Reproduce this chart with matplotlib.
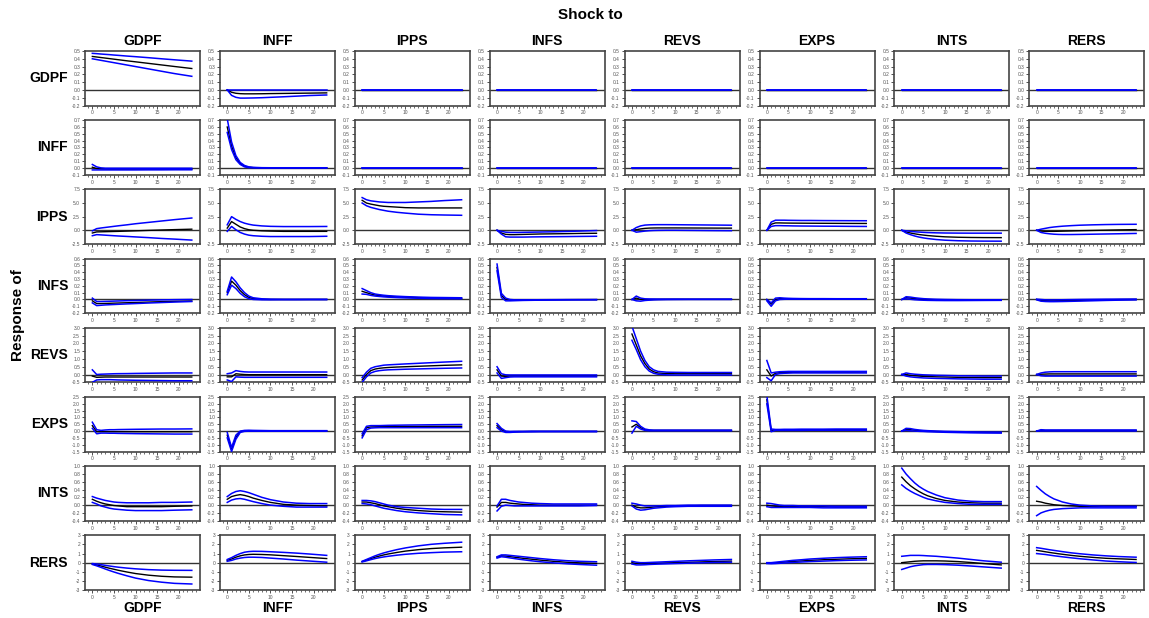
import matplotlib.pyplot as plt
from matplotlib.ticker import MultipleLocator

# horizons (denser early where responses move fast)
H = [0, 1, 2, 3, 4, 5, 6, 8, 10, 13, 16, 19, 23]
VARS = ["GDPF", "INFF", "IPPS", "INFS", "REVS", "EXPS", "INTS", "RERS"]
ZERO = [0.0, 0.0, 0.0, 0.0, 0.0, 0.0, 0.0, 0.0, 0.0, 0.0, 0.0, 0.0, 0.0]

# each entry: shock -> (lower band, point estimate, upper band)
resp_GDPF = {
    "GDPF": ([0.40, 0.39, 0.38, 0.37, 0.36, 0.35, 0.34, 0.32, 0.30, 0.27, 0.24, 0.21, 0.175],
             [0.43, 0.423, 0.416, 0.409, 0.402, 0.395, 0.388, 0.374, 0.361, 0.341, 0.321, 0.301, 0.275],
             [0.47, 0.466, 0.461, 0.457, 0.453, 0.448, 0.444, 0.435, 0.427, 0.414, 0.40, 0.387, 0.37]),
    "INFF": ([0.0, -0.07, -0.095, -0.105, -0.105, -0.104, -0.103, -0.10, -0.095, -0.088, -0.08, -0.072, -0.065],
             [0.0, -0.03, -0.043, -0.048, -0.05, -0.05, -0.05, -0.049, -0.047, -0.045, -0.043, -0.041, -0.038],
             ZERO),
    "IPPS": (ZERO, ZERO, ZERO),
    "INFS": (ZERO, ZERO, ZERO),
    "REVS": (ZERO, ZERO, ZERO),
    "EXPS": (ZERO, ZERO, ZERO),
    "INTS": (ZERO, ZERO, ZERO),
    "RERS": (ZERO, ZERO, ZERO),
}

resp_INFF = {
    "GDPF": ([-0.03, -0.03, -0.03, -0.03, -0.03, -0.03, -0.03, -0.03, -0.03, -0.029, -0.029, -0.028, -0.028],
             [0.01, -0.01, -0.015, -0.017, -0.018, -0.018, -0.018, -0.018, -0.018, -0.018, -0.018, -0.018, -0.018],
             [0.05, 0.015, 0.0, -0.005, -0.005, -0.005, -0.005, -0.005, -0.005, -0.005, -0.005, -0.005, -0.005]),
    "INFF": ([0.52, 0.27, 0.12, 0.05, 0.015, 0.003, 0.0, -0.002, -0.002, -0.002, -0.002, -0.002, -0.002],
             [0.60, 0.32, 0.15, 0.065, 0.025, 0.01, 0.004, 0.0, 0.0, 0.0, 0.0, 0.0, 0.0],
             [0.72, 0.38, 0.18, 0.08, 0.035, 0.015, 0.008, 0.003, 0.002, 0.002, 0.002, 0.002, 0.002]),
    "IPPS": (ZERO, ZERO, ZERO),
    "INFS": (ZERO, ZERO, ZERO),
    "REVS": (ZERO, ZERO, ZERO),
    "EXPS": (ZERO, ZERO, ZERO),
    "INTS": (ZERO, ZERO, ZERO),
    "RERS": (ZERO, ZERO, ZERO),
}

resp_IPPS = {
    "GDPF": ([-1.0, -0.8, -0.85, -0.9, -0.95, -1.0, -1.05, -1.13, -1.22, -1.35, -1.5, -1.62, -1.8],
             [-0.5, -0.3, -0.28, -0.26, -0.24, -0.22, -0.2, -0.15, -0.1, -0.02, 0.05, 0.12, 0.2],
             [-0.1, 0.3, 0.42, 0.52, 0.62, 0.72, 0.82, 1.0, 1.2, 1.45, 1.7, 1.95, 2.25]),
    "INFF": ([-0.2, 0.7, 0.1, -0.4, -0.7, -0.9, -1.0, -1.1, -1.15, -1.15, -1.15, -1.15, -1.1],
             [0.4, 1.6, 1.1, 0.6, 0.3, 0.1, 0.0, -0.1, -0.15, -0.2, -0.2, -0.2, -0.2],
             [1.0, 2.5, 2.0, 1.6, 1.3, 1.1, 0.95, 0.8, 0.72, 0.68, 0.68, 0.68, 0.7]),
    "IPPS": ([5.0, 4.5, 4.2, 4.0, 3.8, 3.65, 3.5, 3.3, 3.15, 2.95, 2.85, 2.8, 2.75],
             [5.5, 5.0, 4.8, 4.65, 4.5, 4.4, 4.35, 4.25, 4.15, 4.1, 4.1, 4.1, 4.1],
             [6.0, 5.6, 5.4, 5.3, 5.2, 5.15, 5.1, 5.1, 5.1, 5.2, 5.3, 5.45, 5.6]),
    "INFS": ([0.0, -0.7, -1.2, -1.25, -1.25, -1.25, -1.25, -1.22, -1.2, -1.18, -1.16, -1.13, -1.1],
             [0.0, -0.5, -0.75, -0.8, -0.8, -0.78, -0.76, -0.72, -0.68, -0.65, -0.62, -0.58, -0.55],
             [0.0, -0.2, -0.35, -0.4, -0.4, -0.4, -0.38, -0.35, -0.32, -0.28, -0.22, -0.15, -0.05]),
    "REVS": ([0.0, -0.35, -0.25, -0.15, -0.08, -0.04, -0.02, 0.0, 0.0, -0.02, -0.04, -0.06, -0.08],
             [0.0, 0.1, 0.25, 0.35, 0.4, 0.42, 0.43, 0.43, 0.43, 0.42, 0.41, 0.4, 0.39],
             [0.0, 0.5, 0.8, 0.95, 1.0, 1.02, 1.03, 1.03, 1.02, 1.0, 0.98, 0.96, 0.93]),
    "EXPS": ([0.0, 0.7, 0.85, 0.85, 0.83, 0.82, 0.8, 0.78, 0.77, 0.75, 0.74, 0.72, 0.7],
             [0.0, 1.1, 1.35, 1.35, 1.33, 1.32, 1.31, 1.3, 1.29, 1.28, 1.27, 1.26, 1.25],
             [0.0, 1.5, 1.85, 1.85, 1.85, 1.83, 1.82, 1.8, 1.8, 1.78, 1.77, 1.76, 1.75]),
    "INTS": ([0.0, -0.5, -0.8, -1.05, -1.25, -1.4, -1.52, -1.7, -1.82, -1.92, -1.97, -1.99, -2.0],
             [0.0, -0.3, -0.5, -0.65, -0.78, -0.88, -0.97, -1.1, -1.2, -1.28, -1.32, -1.34, -1.35],
             [0.0, -0.1, -0.2, -0.28, -0.33, -0.38, -0.42, -0.47, -0.5, -0.52, -0.53, -0.53, -0.53]),
    "RERS": ([0.0, -0.4, -0.55, -0.65, -0.72, -0.76, -0.78, -0.78, -0.76, -0.72, -0.68, -0.64, -0.58],
             [0.0, -0.15, -0.2, -0.2, -0.2, -0.18, -0.16, -0.12, -0.08, -0.03, 0.02, 0.07, 0.12],
             [0.0, 0.2, 0.35, 0.5, 0.6, 0.68, 0.75, 0.85, 0.93, 1.0, 1.05, 1.08, 1.1]),
}

resp_INFS = {
    "GDPF": ([-0.05, -0.09, -0.085, -0.08, -0.077, -0.074, -0.071, -0.065, -0.06, -0.052, -0.045, -0.038, -0.03],
             [-0.02, -0.06, -0.06, -0.058, -0.056, -0.054, -0.052, -0.048, -0.044, -0.038, -0.032, -0.027, -0.022],
             [0.02, -0.03, -0.03, -0.028, -0.026, -0.024, -0.022, -0.018, -0.015, -0.01, -0.006, -0.003, 0.0]),
    "INFF": ([0.07, 0.21, 0.16, 0.09, 0.04, 0.012, 0.0, -0.005, -0.005, -0.004, -0.004, -0.003, -0.003],
             [0.10, 0.27, 0.21, 0.13, 0.07, 0.03, 0.012, 0.002, 0.0, 0.0, 0.0, 0.0, 0.0],
             [0.12, 0.33, 0.26, 0.17, 0.10, 0.05, 0.025, 0.01, 0.005, 0.003, 0.003, 0.003, 0.003]),
    "IPPS": ([0.08, 0.075, 0.06, 0.05, 0.044, 0.038, 0.034, 0.028, 0.023, 0.018, 0.014, 0.012, 0.01],
             [0.12, 0.10, 0.08, 0.065, 0.057, 0.05, 0.045, 0.038, 0.033, 0.027, 0.023, 0.02, 0.018],
             [0.16, 0.13, 0.10, 0.08, 0.07, 0.062, 0.056, 0.048, 0.042, 0.035, 0.03, 0.028, 0.025]),
    "INFS": ([0.42, 0.03, -0.02, -0.02, -0.018, -0.016, -0.014, -0.012, -0.01, -0.008, -0.006, -0.005, -0.004],
             [0.47, 0.06, 0.0, -0.01, -0.012, -0.01, -0.009, -0.008, -0.006, -0.004, -0.003, -0.002, -0.002],
             [0.52, 0.09, 0.02, 0.0, -0.005, -0.005, -0.005, -0.005, -0.004, -0.003, -0.002, -0.002, -0.001]),
    "REVS": ([0.0, -0.02, -0.025, -0.015, -0.01, -0.006, -0.004, -0.002, -0.001, 0.0, 0.0, 0.0, 0.0],
             [0.0, 0.02, 0.0, -0.002, -0.002, 0.0, 0.001, 0.002, 0.002, 0.002, 0.002, 0.002, 0.002],
             [0.0, 0.05, 0.02, 0.01, 0.008, 0.007, 0.006, 0.005, 0.005, 0.004, 0.004, 0.004, 0.004]),
    "EXPS": ([-0.02, -0.10, -0.02, 0.0, 0.003, 0.004, 0.004, 0.004, 0.004, 0.004, 0.004, 0.004, 0.004],
             [0.0, -0.07, 0.0, 0.012, 0.01, 0.009, 0.008, 0.008, 0.008, 0.008, 0.008, 0.008, 0.008],
             [0.0, -0.05, 0.02, 0.025, 0.02, 0.017, 0.015, 0.013, 0.012, 0.012, 0.011, 0.011, 0.011]),
    "INTS": ([0.0, 0.01, 0.003, -0.004, -0.008, -0.011, -0.013, -0.015, -0.016, -0.016, -0.015, -0.014, -0.013],
             [0.0, 0.025, 0.02, 0.012, 0.006, 0.002, -0.001, -0.005, -0.007, -0.008, -0.008, -0.008, -0.008],
             [0.0, 0.04, 0.035, 0.025, 0.018, 0.012, 0.008, 0.003, 0.0, -0.003, -0.004, -0.004, -0.004]),
    "RERS": ([-0.005, -0.025, -0.03, -0.032, -0.032, -0.031, -0.03, -0.027, -0.024, -0.019, -0.014, -0.01, -0.006],
             [0.0, -0.015, -0.018, -0.02, -0.02, -0.019, -0.018, -0.015, -0.012, -0.008, -0.005, -0.002, 0.0],
             [0.005, 0.0, -0.005, -0.006, -0.006, -0.005, -0.004, -0.002, 0.0, 0.002, 0.004, 0.005, 0.006]),
}

resp_REVS = {
    "GDPF": ([-0.5, -0.35, -0.33, -0.33, -0.33, -0.34, -0.35, -0.36, -0.37, -0.38, -0.39, -0.4, -0.4],
             [-0.1, -0.18, -0.17, -0.16, -0.16, -0.16, -0.16, -0.16, -0.16, -0.16, -0.16, -0.16, -0.16],
             [0.3, 0.0, 0.02, 0.03, 0.04, 0.05, 0.055, 0.06, 0.07, 0.08, 0.09, 0.1, 0.1]),
    "INFF": ([-0.35, -0.45, -0.15, -0.17, -0.18, -0.18, -0.18, -0.18, -0.18, -0.18, -0.18, -0.18, -0.18],
             [-0.15, -0.15, 0.05, 0.02, 0.0, -0.01, -0.01, -0.01, -0.01, -0.01, -0.01, -0.01, -0.01],
             [0.05, 0.1, 0.25, 0.2, 0.17, 0.16, 0.16, 0.16, 0.16, 0.16, 0.16, 0.16, 0.16]),
    "IPPS": ([-0.5, -0.15, 0.1, 0.2, 0.25, 0.28, 0.3, 0.32, 0.34, 0.36, 0.38, 0.4, 0.42],
             [-0.35, 0.0, 0.25, 0.35, 0.4, 0.43, 0.45, 0.48, 0.5, 0.53, 0.56, 0.59, 0.62],
             [-0.2, 0.15, 0.4, 0.5, 0.55, 0.6, 0.62, 0.65, 0.68, 0.72, 0.76, 0.8, 0.85]),
    "INFS": ([0.1, -0.25, -0.2, -0.16, -0.15, -0.15, -0.15, -0.15, -0.15, -0.15, -0.15, -0.15, -0.15],
             [0.3, -0.1, -0.12, -0.1, -0.1, -0.1, -0.1, -0.1, -0.1, -0.1, -0.1, -0.1, -0.1],
             [0.5, 0.05, -0.02, -0.03, -0.03, -0.03, -0.03, -0.03, -0.03, -0.03, -0.03, -0.03, -0.03]),
    "REVS": ([2.2, 1.6, 0.95, 0.5, 0.22, 0.08, 0.02, -0.02, -0.03, -0.03, -0.03, -0.03, -0.03],
             [2.6, 1.9, 1.2, 0.7, 0.35, 0.18, 0.1, 0.06, 0.05, 0.05, 0.05, 0.05, 0.05],
             [3.1, 2.3, 1.5, 0.9, 0.5, 0.3, 0.2, 0.15, 0.14, 0.13, 0.13, 0.13, 0.13]),
    "EXPS": ([-0.2, -0.4, 0.0, 0.06, 0.08, 0.09, 0.1, 0.1, 0.1, 0.1, 0.1, 0.1, 0.1],
             [0.3, -0.1, 0.08, 0.12, 0.13, 0.14, 0.14, 0.15, 0.15, 0.15, 0.15, 0.15, 0.16],
             [0.9, 0.1, 0.15, 0.18, 0.19, 0.2, 0.2, 0.2, 0.2, 0.2, 0.2, 0.2, 0.2]),
    "INTS": ([0.0, -0.1, -0.15, -0.18, -0.2, -0.22, -0.23, -0.25, -0.26, -0.28, -0.29, -0.3, -0.3],
             [0.0, 0.0, -0.05, -0.08, -0.1, -0.12, -0.13, -0.15, -0.16, -0.18, -0.19, -0.2, -0.2],
             [0.0, 0.1, 0.05, 0.02, 0.0, -0.02, -0.03, -0.05, -0.06, -0.08, -0.09, -0.1, -0.1]),
    "RERS": ([0.0, -0.08, -0.1, -0.1, -0.1, -0.1, -0.1, -0.1, -0.1, -0.1, -0.1, -0.1, -0.1],
             [0.0, 0.02, 0.03, 0.04, 0.04, 0.04, 0.04, 0.04, 0.04, 0.04, 0.04, 0.04, 0.04],
             [0.0, 0.1, 0.15, 0.17, 0.18, 0.18, 0.18, 0.18, 0.18, 0.18, 0.18, 0.18, 0.18]),
}

resp_EXPS = {
    "GDPF": ([0.2, -0.2, -0.15, -0.15, -0.16, -0.16, -0.17, -0.18, -0.19, -0.2, -0.21, -0.22, -0.22],
             [0.4, -0.05, -0.05, -0.05, -0.05, -0.05, -0.05, -0.05, -0.05, -0.05, -0.05, -0.05, -0.05],
             [0.65, 0.1, 0.05, 0.08, 0.1, 0.1, 0.11, 0.12, 0.13, 0.14, 0.15, 0.15, 0.16]),
    "INFF": ([-0.5, -1.5, -0.6, -0.1, -0.02, -0.01, -0.01, -0.01, -0.01, -0.01, -0.01, -0.01, -0.01],
             [-0.3, -1.35, -0.45, -0.05, 0.02, 0.02, 0.02, 0.01, 0.01, 0.01, 0.01, 0.01, 0.01],
             [-0.1, -1.2, -0.3, 0.0, 0.05, 0.06, 0.05, 0.04, 0.03, 0.03, 0.03, 0.03, 0.03]),
    "IPPS": ([-0.5, 0.1, 0.22, 0.24, 0.25, 0.25, 0.25, 0.25, 0.25, 0.25, 0.25, 0.25, 0.25],
             [-0.35, 0.25, 0.3, 0.31, 0.32, 0.32, 0.33, 0.33, 0.34, 0.34, 0.35, 0.35, 0.35],
             [-0.2, 0.35, 0.4, 0.4, 0.4, 0.41, 0.42, 0.43, 0.44, 0.45, 0.46, 0.47, 0.48]),
    "INFS": ([0.25, 0.0, -0.1, -0.1, -0.08, -0.07, -0.06, -0.06, -0.05, -0.05, -0.05, -0.05, -0.05],
             [0.4, 0.1, -0.05, -0.06, -0.05, -0.04, -0.04, -0.03, -0.03, -0.03, -0.03, -0.03, -0.03],
             [0.55, 0.2, 0.0, -0.03, -0.02, -0.02, -0.02, -0.01, -0.01, -0.01, -0.01, -0.01, -0.01]),
    "REVS": ([-0.15, 0.35, 0.15, 0.05, 0.02, 0.02, 0.02, 0.02, 0.02, 0.02, 0.02, 0.02, 0.02],
             [0.3, 0.5, 0.25, 0.1, 0.05, 0.05, 0.05, 0.05, 0.05, 0.05, 0.05, 0.05, 0.05],
             [0.75, 0.7, 0.35, 0.15, 0.09, 0.07, 0.07, 0.07, 0.07, 0.07, 0.07, 0.07, 0.07]),
    "EXPS": ([2.0, -0.05, 0.05, 0.05, 0.05, 0.05, 0.05, 0.05, 0.06, 0.06, 0.06, 0.06, 0.06],
             [2.3, 0.05, 0.08, 0.08, 0.09, 0.09, 0.09, 0.09, 0.1, 0.1, 0.1, 0.1, 0.1],
             [2.6, 0.15, 0.12, 0.12, 0.13, 0.13, 0.13, 0.14, 0.14, 0.14, 0.15, 0.15, 0.15]),
    "INTS": ([0.0, 0.05, 0.02, 0.0, -0.02, -0.03, -0.05, -0.07, -0.09, -0.11, -0.13, -0.14, -0.15],
             [0.0, 0.12, 0.1, 0.06, 0.03, 0.01, -0.01, -0.03, -0.05, -0.07, -0.09, -0.1, -0.11],
             [0.0, 0.2, 0.18, 0.12, 0.08, 0.05, 0.03, 0.0, -0.02, -0.04, -0.06, -0.07, -0.08]),
    "RERS": ([0.0, 0.0, 0.0, 0.0, 0.0, 0.0, 0.0, 0.0, 0.0, 0.0, 0.0, 0.0, 0.0],
             [0.0, 0.05, 0.04, 0.04, 0.04, 0.04, 0.04, 0.04, 0.04, 0.04, 0.04, 0.04, 0.04],
             [0.0, 0.1, 0.08, 0.08, 0.08, 0.08, 0.08, 0.08, 0.08, 0.08, 0.08, 0.08, 0.08]),
}

resp_INTS = {
    "GDPF": ([0.07, 0.03, -0.02, -0.05, -0.08, -0.1, -0.11, -0.13, -0.14, -0.14, -0.14, -0.13, -0.12],
             [0.15, 0.1, 0.06, 0.03, 0.01, -0.01, -0.02, -0.04, -0.04, -0.04, -0.04, -0.03, -0.02],
             [0.22, 0.18, 0.15, 0.12, 0.1, 0.08, 0.07, 0.06, 0.06, 0.06, 0.07, 0.07, 0.08]),
    "INFF": ([0.07, 0.13, 0.16, 0.17, 0.15, 0.12, 0.09, 0.04, 0.0, -0.03, -0.05, -0.05, -0.05],
             [0.15, 0.22, 0.25, 0.27, 0.25, 0.22, 0.18, 0.12, 0.07, 0.02, 0.0, -0.01, -0.02],
             [0.22, 0.3, 0.35, 0.37, 0.35, 0.32, 0.28, 0.2, 0.14, 0.08, 0.05, 0.04, 0.04]),
    "IPPS": ([0.04, 0.03, 0.01, -0.02, -0.05, -0.08, -0.1, -0.14, -0.17, -0.2, -0.22, -0.24, -0.25],
             [0.08, 0.08, 0.06, 0.04, 0.01, -0.02, -0.04, -0.08, -0.11, -0.14, -0.16, -0.17, -0.18],
             [0.12, 0.12, 0.11, 0.09, 0.06, 0.03, 0.0, -0.04, -0.06, -0.08, -0.1, -0.11, -0.11]),
    "INFS": ([-0.15, -0.03, 0.0, -0.01, -0.02, -0.02, -0.02, -0.02, -0.02, -0.02, -0.02, -0.02, -0.01],
             [-0.05, 0.07, 0.07, 0.05, 0.04, 0.03, 0.02, 0.01, 0.0, 0.0, 0.0, 0.0, 0.0],
             [-0.02, 0.15, 0.15, 0.12, 0.1, 0.08, 0.07, 0.05, 0.04, 0.03, 0.03, 0.03, 0.03]),
    "REVS": ([-0.02, -0.1, -0.13, -0.12, -0.1, -0.08, -0.07, -0.05, -0.04, -0.03, -0.03, -0.03, -0.03],
             [0.0, -0.05, -0.07, -0.07, -0.06, -0.05, -0.04, -0.03, -0.02, -0.02, -0.01, -0.01, -0.01],
             [0.05, 0.03, 0.0, -0.02, -0.02, -0.02, -0.02, -0.01, -0.01, 0.0, 0.0, 0.0, 0.0]),
    "EXPS": ([-0.04, -0.06, -0.06, -0.06, -0.06, -0.06, -0.06, -0.06, -0.06, -0.07, -0.07, -0.07, -0.07],
             [0.0, -0.02, -0.03, -0.03, -0.03, -0.03, -0.04, -0.04, -0.04, -0.04, -0.05, -0.05, -0.05],
             [0.05, 0.04, 0.02, 0.0, -0.01, -0.01, -0.01, -0.02, -0.02, -0.02, -0.03, -0.03, -0.03]),
    "INTS": ([0.52, 0.43, 0.36, 0.3, 0.25, 0.2, 0.16, 0.11, 0.07, 0.04, 0.02, 0.02, 0.02],
             [0.72, 0.6, 0.5, 0.42, 0.35, 0.29, 0.24, 0.17, 0.12, 0.08, 0.06, 0.05, 0.05],
             [0.95, 0.8, 0.68, 0.57, 0.48, 0.41, 0.35, 0.26, 0.19, 0.13, 0.1, 0.09, 0.09]),
    "RERS": ([-0.27, -0.2, -0.16, -0.13, -0.11, -0.1, -0.09, -0.08, -0.07, -0.07, -0.07, -0.07, -0.07],
             [0.1, 0.08, 0.05, 0.03, 0.01, 0.0, -0.01, -0.02, -0.03, -0.03, -0.03, -0.03, -0.03],
             [0.48, 0.38, 0.29, 0.22, 0.16, 0.12, 0.08, 0.03, 0.0, -0.02, -0.03, -0.03, -0.03]),
}

resp_RERS = {
    "GDPF": ([-0.2, -0.35, -0.52, -0.7, -0.87, -1.03, -1.18, -1.45, -1.7, -1.97, -2.15, -2.28, -2.35],
             [-0.15, -0.25, -0.37, -0.5, -0.62, -0.73, -0.84, -1.03, -1.2, -1.38, -1.5, -1.57, -1.6],
             [-0.1, -0.15, -0.22, -0.3, -0.37, -0.44, -0.5, -0.6, -0.68, -0.77, -0.82, -0.84, -0.85]),
    "INFF": ([0.15, 0.25, 0.4, 0.5, 0.57, 0.6, 0.6, 0.57, 0.5, 0.4, 0.28, 0.18, 0.05],
             [0.25, 0.4, 0.6, 0.75, 0.85, 0.9, 0.92, 0.9, 0.86, 0.77, 0.68, 0.58, 0.45],
             [0.35, 0.55, 0.8, 1.0, 1.15, 1.22, 1.25, 1.24, 1.2, 1.13, 1.05, 0.95, 0.8]),
    "IPPS": ([0.08, 0.2, 0.33, 0.45, 0.55, 0.63, 0.7, 0.82, 0.92, 1.03, 1.1, 1.16, 1.2],
             [0.12, 0.28, 0.45, 0.6, 0.73, 0.85, 0.95, 1.12, 1.27, 1.43, 1.55, 1.63, 1.7],
             [0.15, 0.35, 0.55, 0.75, 0.92, 1.07, 1.2, 1.43, 1.62, 1.85, 2.02, 2.13, 2.25]),
    "INFS": ([0.5, 0.65, 0.6, 0.52, 0.45, 0.38, 0.32, 0.2, 0.1, -0.02, -0.12, -0.2, -0.28],
             [0.6, 0.75, 0.72, 0.66, 0.6, 0.54, 0.48, 0.38, 0.28, 0.15, 0.05, -0.02, -0.08],
             [0.65, 0.85, 0.85, 0.8, 0.75, 0.7, 0.65, 0.55, 0.45, 0.32, 0.22, 0.15, 0.1]),
    "REVS": ([-0.15, -0.25, -0.25, -0.23, -0.2, -0.18, -0.16, -0.13, -0.1, -0.06, -0.02, 0.02, 0.05],
             [0.0, -0.1, -0.12, -0.11, -0.1, -0.08, -0.06, -0.03, 0.0, 0.04, 0.08, 0.12, 0.17],
             [0.15, 0.05, 0.0, 0.0, 0.02, 0.04, 0.06, 0.1, 0.14, 0.2, 0.25, 0.3, 0.35]),
    "EXPS": ([-0.1, -0.12, -0.1, -0.07, -0.04, -0.01, 0.02, 0.07, 0.12, 0.17, 0.22, 0.26, 0.3],
             [-0.05, -0.05, -0.02, 0.02, 0.06, 0.1, 0.13, 0.19, 0.25, 0.32, 0.37, 0.42, 0.47],
             [0.0, 0.0, 0.05, 0.1, 0.15, 0.2, 0.25, 0.32, 0.4, 0.48, 0.55, 0.6, 0.65]),
    "INTS": ([-0.75, -0.6, -0.45, -0.35, -0.28, -0.22, -0.2, -0.2, -0.22, -0.28, -0.37, -0.47, -0.6],
             [0.0, 0.05, 0.1, 0.15, 0.18, 0.2, 0.2, 0.2, 0.18, 0.12, 0.02, -0.1, -0.25],
             [0.7, 0.75, 0.8, 0.8, 0.8, 0.78, 0.75, 0.7, 0.62, 0.5, 0.35, 0.2, 0.05]),
    "RERS": ([1.0, 0.95, 0.9, 0.83, 0.76, 0.7, 0.64, 0.53, 0.43, 0.3, 0.18, 0.1, 0.02],
             [1.35, 1.28, 1.2, 1.12, 1.05, 0.98, 0.92, 0.8, 0.7, 0.58, 0.48, 0.42, 0.35],
             [1.65, 1.58, 1.5, 1.42, 1.35, 1.28, 1.21, 1.08, 0.98, 0.85, 0.75, 0.67, 0.6]),
}

RESPONSES = [resp_GDPF, resp_INFF, resp_IPPS, resp_INFS, resp_REVS, resp_EXPS, resp_INTS, resp_RERS]

# y range and tick step of each response row
Y_LIMS = [(-0.2, 0.5), (-0.1, 0.7), (-2.5, 7.5), (-0.2, 0.6), (-0.5, 3.0), (-1.5, 2.5), (-0.4, 1.0), (-3, 3)]
Y_STEPS = [0.1, 0.1, 2.5, 0.1, 0.5, 0.5, 0.2, 1]
Y_FMT = ["%.1f", "%.1f", "%.1f", "%.1f", "%.1f", "%.1f", "%.1f", "%d"]

W, Hpx = 1149, 618
fig = plt.figure(figsize=(W / 100, Hpx / 100), dpi=100)
plt.rcParams["font.family"] = ["Liberation Sans", "DejaVu Sans"]

x0, dx, aw = 85, 134.9, 115
y0, dy, ah = 51, 69.2, 54.5

for r, resp in enumerate(RESPONSES):
    for c, shock in enumerate(VARS):
        left = (x0 + c * dx) / W
        bottom = 1 - (y0 + r * dy + ah) / Hpx
        ax = fig.add_axes([left, bottom, aw / W, ah / Hpx])
        lo, mid, hi = resp[shock]
        ax.axhline(0, color="#333333", lw=1.0, zorder=1)
        ax.plot(H, lo, color="#0000ff", lw=1.1, zorder=3)
        ax.plot(H, hi, color="#0000ff", lw=1.1, zorder=3)
        ax.plot(H, mid, color="black", lw=1.0, zorder=2)
        ax.set_xlim(-1.7, 24.9)
        ax.set_ylim(*Y_LIMS[r])
        ax.xaxis.set_major_locator(MultipleLocator(5))
        ax.xaxis.set_minor_locator(MultipleLocator(1))
        ax.yaxis.set_major_locator(MultipleLocator(Y_STEPS[r]))
        ax.yaxis.set_major_formatter(plt.FormatStrFormatter(Y_FMT[r]))
        ax.tick_params(axis="both", which="major", labelsize=3.5, labelcolor="#555555",
                       length=2, width=0.6, pad=1.5, color="#333333")
        ax.tick_params(axis="x", which="minor", length=1.5, width=0.5, color="#333333")
        for s in ax.spines.values():
            s.set_color("#444444")
            s.set_linewidth(1.2)
        if r == 0:
            ax.set_title(shock, fontsize=10, fontweight="bold", pad=4)
        if c == 0:
            fig.text(68 / W, 1 - (y0 + r * dy + ah / 2) / Hpx, VARS[r], ha="right",
                     va="center", fontsize=10, fontweight="bold")

# column labels repeated below the last row
for c, shock in enumerate(VARS):
    fig.text((x0 + c * dx + aw / 2) / W, 1 - 608 / Hpx, shock, ha="center", va="center",
             fontsize=10, fontweight="bold")

fig.text(590 / W, 1 - 15 / Hpx, "Shock to", ha="center", va="center", fontsize=11, fontweight="bold")
fig.text(18 / W, 1 - 315 / Hpx, "Response of", ha="center", va="center", rotation=90,
         fontsize=11, fontweight="bold")

fig.savefig("out.png", dpi=100)
